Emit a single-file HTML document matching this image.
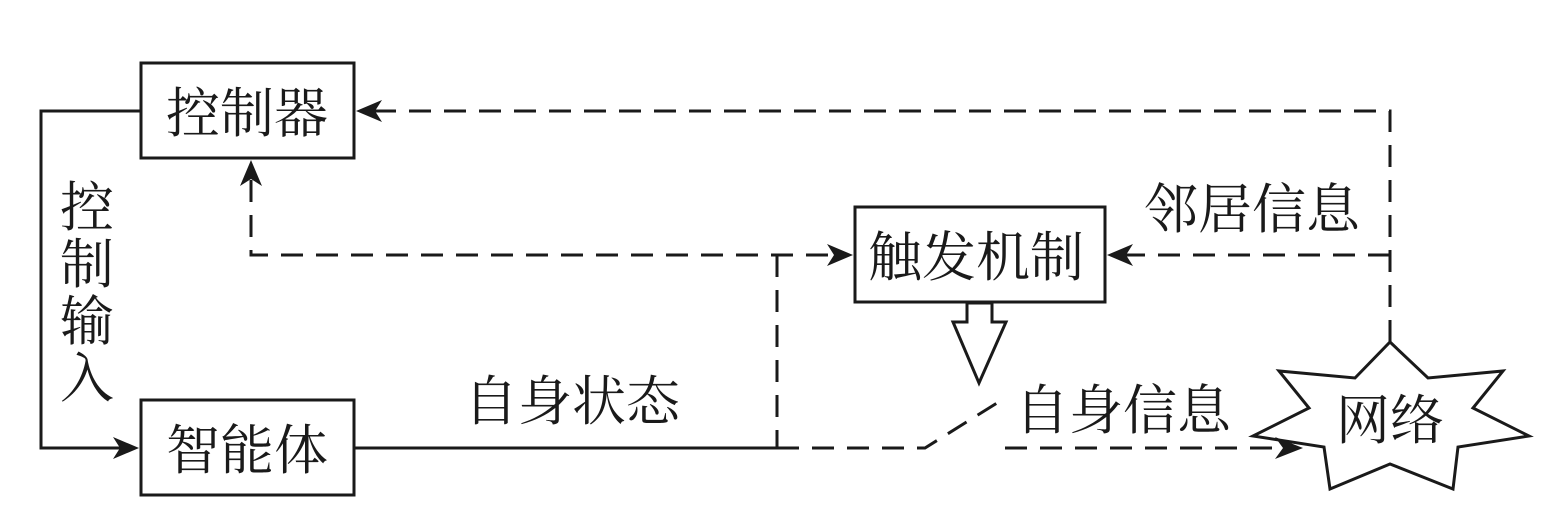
<!DOCTYPE html>
<html><head><meta charset="utf-8"><style>
html,body{margin:0;padding:0;background:#fff;}
svg{display:block}
text{font-family:"Liberation Serif","Noto Serif CJK SC",serif;font-size:54px;fill:#1a1a1a;}
</style></head><body>
<svg width="1557" height="519" viewBox="0 0 1557 519" xmlns="http://www.w3.org/2000/svg">
<g stroke="#1a1a1a" stroke-width="3" fill="none">
<rect x="141" y="63" width="213" height="95"/>
<rect x="141" y="400" width="213" height="95"/>
<rect x="855" y="207" width="250" height="95"/>
<polyline points="141,111 41,111 41,448 125,448"/>
<line x1="354" y1="448" x2="777" y2="448"/>
<g stroke-dasharray="22,13">
<polyline points="1390,342 1390,111 375,111"/>
<line x1="1390" y1="255" x2="1125" y2="255"/>
<polyline points="251,180 251,255 835,255"/>
<line x1="777" y1="255" x2="777" y2="448"/>
<polyline points="777,448 925,448 1005,398"/>
<line x1="1005" y1="448" x2="1282" y2="448"/>
</g>
<polygon points="967,303 967,322 953,322 979,383 1006,322 992,322 992,303"/>
<polygon fill="#fff" points="1390,342 1428,378 1503,371 1473,408 1529,436 1458,447 1453,489 1390,464 1330,489 1324,447 1253,436 1309,408 1279,371 1355,378"/>
</g>
<g fill="#1a1a1a">
<polygon points="356,111 382,100 375,111 382,122"/>
<polygon points="1107,255 1133,244 1126,255 1133,266"/>
<polygon points="251,160 240,186 251,179 262,186"/>
<polygon points="853,255 827,244 834,255 827,266"/>
<polygon points="139,448 113,437 120,448 113,459"/>
<polygon points="1303,448 1275,437 1283,448 1275,459"/>
</g>
<text x="166" y="132">控制器</text>
<text x="166" y="469">智能体</text>
<text x="868" y="276">触发机制</text>
<text x="1144" y="228">邻居信息</text>
<text x="464" y="420">自身状态</text>
<text x="1015" y="429">自身信息</text>
<text x="1336" y="439">网络</text>
<text x="60" y="226">控</text>
<text x="60" y="283">制</text>
<text x="60" y="340">输</text>
<text x="60" y="397">入</text>
</svg>
</body></html>
